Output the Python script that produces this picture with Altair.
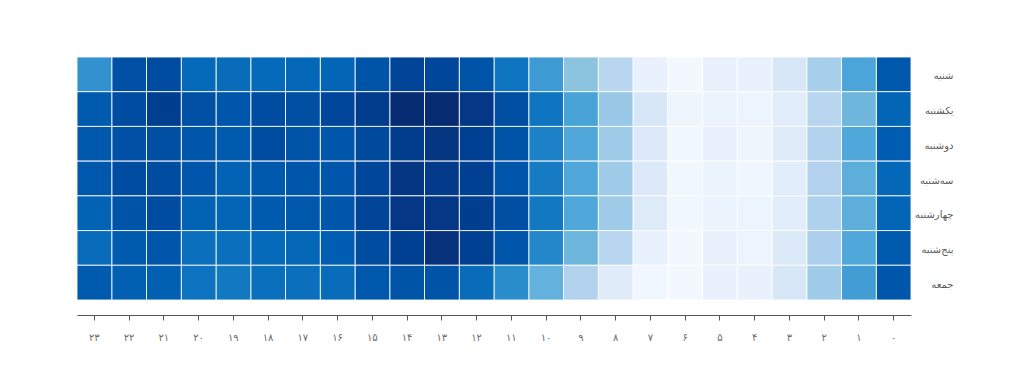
import altair as alt
import pandas as pd

days = ["شنبه", "یکشنبه", "دوشنبه", "سه‌شنبه", "چهارشنبه", "پنج‌شنبه", "جمعه"]
hours = list(range(24))
hour_labels = ["۰", "۱", "۲", "۳", "۴", "۵", "۶", "۷", "۸", "۹", "۱۰", "۱۱",
               "۱۲", "۱۳", "۱۴", "۱۵", "۱۶", "۱۷", "۱۸", "۱۹", "۲۰", "۲۱", "۲۲", "۲۳"]

# values per day, hour 0 .. 23
sat = [79, 51, 33, 19, 10, 9, 3, 10, 28, 40, 55, 68, 81, 86, 87, 81, 74, 73, 72, 71, 72, 84, 82, 58]
sun = [74, 45, 28, 14, 7, 8, 6, 19, 37, 52, 68, 83, 93, 99, 99, 91, 86, 83, 84, 80, 82, 90, 84, 78]
mon = [77, 50, 30, 16, 6, 9, 4, 17, 35, 50, 64, 81, 89, 94, 91, 85, 80, 81, 84, 78, 80, 83, 82, 79]
tue = [73, 48, 30, 14, 5, 8, 4, 17, 35, 50, 66, 80, 89, 92, 94, 86, 80, 80, 79, 75, 80, 84, 84, 79]
wed = [74, 48, 31, 14, 7, 8, 4, 16, 35, 50, 67, 83, 90, 93, 93, 87, 80, 79, 78, 74, 75, 84, 81, 75]
thu = [78, 50, 32, 17, 7, 9, 3, 10, 28, 45, 62, 80, 89, 96, 89, 84, 77, 73, 72, 70, 70, 80, 78, 71]
fri = [80, 54, 35, 19, 10, 10, 3, 4, 15, 30, 47, 60, 71, 81, 81, 79, 71, 70, 70, 67, 69, 76, 76, 78]

series = [sat, sun, mon, tue, wed, thu, fri]

rows = []
for d, vals in zip(days, series):
    for h, lab, v in zip(hours, hour_labels, vals):
        rows.append({"day": d, "hour": lab, "value": v})
df = pd.DataFrame(rows)

color_stops = ["#f7fbff", "#e8f1fc", "#d5e6f6", "#b2d2ee", "#8cc4e0", "#50a8da",
               "#2a8dcc", "#0a6fbd", "#0056ab", "#003e90", "#082a6e"]
stop_domain = [0, 10, 20, 30, 40, 50, 60, 70, 80, 90, 100]

chart = alt.Chart(df).mark_rect(stroke="white", strokeWidth=1, strokeOpacity=0.85).encode(
    x=alt.X("hour:O", sort=hour_labels[::-1], title=None,
            scale=alt.Scale(paddingInner=0, paddingOuter=0),
            axis=alt.Axis(orient="bottom", offset=15, labelAngle=0,
                          domainColor="#555555", tickColor="#555555", tickSize=5,
                          labelColor="#6b6b6b", labelFontSize=10, labelPadding=12,
                          labelFont="DejaVu Sans", grid=False)),
    y=alt.Y("day:N", sort=days, title=None,
            scale=alt.Scale(paddingInner=0, paddingOuter=0),
            axis=alt.Axis(orient="right", domain=False, ticks=False, labelAlign="right",
                          labelPadding=42, labelOffset=2, labelColor="#5a5a5a",
                          labelFontSize=10, labelFont="DejaVu Sans", grid=False)),
    color=alt.Color("value:Q", legend=None,
                    scale=alt.Scale(domain=stop_domain, range=color_stops)),
).properties(
    width=834, height=243,
    padding={"left": 69, "top": 49, "right": 100, "bottom": 75},
    autosize=alt.AutoSizeParams(type="none"),
).configure_view(stroke=None)

chart.save("out.html", embed_options={"renderer": "svg", "actions": False})
